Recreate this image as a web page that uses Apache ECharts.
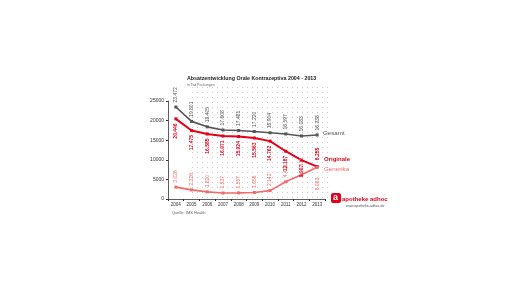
<!DOCTYPE html>
<html><head><meta charset="utf-8">
<script src="https://cdn.jsdelivr.net/npm/echarts@6/dist/echarts.min.js"></script>
<style>html,body{margin:0;padding:0;background:#fff}#c{width:516px;height:290px}</style>
</head><body><div id="c"></div>
<script>
var years = ['2004','2005','2006','2007','2008','2009','2010','2011','2012','2013'];
var gesamt = [23472,19801,18405,17608,17481,17220,16904,16597,16083,16338];
var originale = [20446,17475,16585,16071,15924,15563,14762,12187,9907,8255];
var generika = [3026,2326,1820,1537,1557,1656,2142,4408,6175,8083];
var yTicks = [0,5000,10000,15000,20000,25000];

function fmt(v){ return String(v).replace(/\B(?=(\d{3})+(?!\d))/g,'.'); }

var pc = document.createElement('canvas'); pc.width = 5; pc.height = 5;
var pctx = pc.getContext('2d'); pctx.fillStyle = '#cccccc'; pctx.fillRect(2,2,1,1);

function lbl(pos, color, bold){
  return {show:true, rotate:90, position:pos, distance:3, align: pos==='top'?'left':'right', verticalAlign:'middle',
    fontSize:5, color:color, fontWeight: bold?'bold':'normal', fontFamily:'Liberation Sans',
    formatter:function(p){return fmt(p.value);}};
}
function ser(name, data, color, w, pos, bold, lastPos){
  return {name:name, type:'line', symbol:'rect', symbolSize:3,
    data:data.map(function(v,i){ var d={value:v}; if(i===data.length-1 && lastPos){ d.label=lbl(lastPos,color,bold); d.label.offset = lastPos==='bottom'?[-6,0]:[2,0]; } return d; }),
    lineStyle:{color:color,width:w}, itemStyle:{color:color},
    label:lbl(pos,color,bold), z:5};
}
var F = '"Liberation Sans"';
var chart = echarts.init(document.getElementById('c'));
chart.setOption({
  animation:false,
  graphic:[
    {type:'rect', shape:{x:192,y:84,width:140,height:118}, style:{fill:{image:pc, repeat:'repeat'}}, z:-10, silent:true},
    {type:'text', left:187, top:76, style:{text:'Absatzentwicklung Orale Kontrazeptiva 2004 - 2013', font:'bold 5.3px '+F, fill:'#222'}},
    {type:'text', left:187, top:83, style:{text:'in Tsd Packungen', font:'3.5px '+F, fill:'#666'}},
    {type:'text', left:172, top:211, style:{text:'Quelle: IMS Health', font:'4px '+F, fill:'#666'}},
    {type:'text', left:323, top:130, style:{text:'Gesamt', font:'6.2px '+F, fill:'#555'}},
    {type:'text', left:324, top:156, style:{text:'Originale', font:'bold 6px '+F, fill:'#e3001b'}},
    {type:'text', left:324, top:166, style:{text:'Generika', font:'6.2px '+F, fill:'#f26a6a'}},
    {type:'rect', shape:{x:331,y:193,width:10,height:10,r:2}, style:{fill:'#e3001b'}},
    {type:'text', left:333, top:193, style:{text:'a', font:'bold 9px '+F, fill:'#fff'}},
    {type:'text', left:342, top:196, style:{text:'apotheke adhoc', font:'bold 6px '+F, fill:'#e3001b'}},
    {type:'text', left:346, top:204, style:{text:'www.apotheke-adhoc.de', font:'3.5px '+F, fill:'#555'}}
  ],
  grid:{left:168, right:191, top:101, bottom:91},
  xAxis:{type:'category', data:years, boundaryGap:true,
    axisLine:{lineStyle:{color:'#333',width:0.8}}, axisTick:{show:true,length:2,lineStyle:{color:'#333'}},
    axisLabel:{fontSize:4.5, color:'#333', margin:3, fontFamily:'Liberation Sans'}, splitLine:{show:false}},
  yAxis:{type:'value', min:0, max:25000, interval:5000,
    axisLine:{show:true, lineStyle:{color:'#333',width:0.8}}, axisTick:{show:true,length:2},
    axisLabel:{fontSize:5, color:'#333', margin:4, fontFamily:'Liberation Sans',
      formatter:function(v){return yTicks.indexOf(v)>=0? String(v):'';}}, splitLine:{show:false}},
  series:[
    ser('Gesamt', gesamt, '#555555', 1.6, 'top', false, null),
    ser('Originale', originale, '#e3001b', 2, 'bottom', true, 'top'),
    ser('Generika', generika, '#f26a6a', 1.6, 'top', false, 'bottom')
  ]
});
</script></body></html>
